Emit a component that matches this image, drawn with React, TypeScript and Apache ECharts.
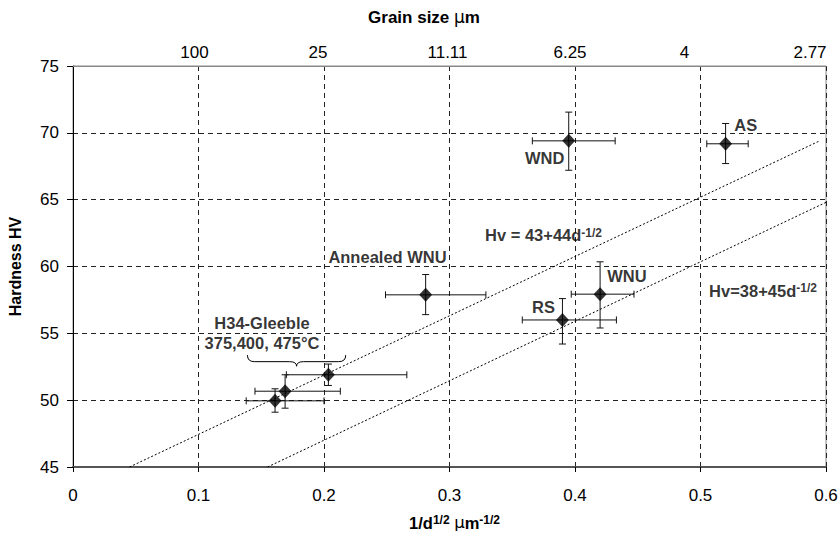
import React, { useEffect, useRef } from "react";
import * as echarts from "echarts";

// Data
const pointNames = ["H34 375°C", "H34 400°C", "H34 475°C", "Annealed WNU", "RS", "WND", "WNU", "AS"];
const invSqrtD = [0.161, 0.169, 0.2035, 0.281, 0.39, 0.395, 0.42, 0.52];
const hardness = [49.95, 50.67, 51.9, 57.88, 56.0, 69.4, 57.93, 69.18];
const xLow = [0.138, 0.145, 0.17, 0.249, 0.358, 0.366, 0.397, 0.505];
const xHigh = [0.2, 0.213, 0.266, 0.329, 0.433, 0.432, 0.447, 0.538];
const yLow = [49.1, 49.4, 51.1, 56.4, 54.2, 67.2, 55.4, 67.7];
const yHigh = [50.85, 51.9, 52.7, 59.4, 57.6, 71.55, 60.35, 70.7];

const fit1 = [[0.045, 45], [0.595, 69.4]]; // Hv = 43+44d^-1/2
const fit2 = [[0.155, 45], [0.6, 64.8]]; // Hv = 38+45d^-1/2

const topTickValues = [0.1, 0.2, 0.3, 0.4, 0.5, 0.6];
const grainSizeLabels = ["100", "25", "11.11", "6.25", "4", "2.77"];
// leftward shift (px) of each top label, as in the reference layout
const topLabelShift = [4, 6, 2, 5, 16, 16];

const annotationTexts = [
  "{b|AS}",
  "{b|WND}",
  "{b|Annealed WNU}",
  "{b|H34-Gleeble}",
  "{b|375,400, 475°C}",
  "{b|WNU}",
  "{b|RS}",
  "{b|Hv = 43+44d}{sup|-1/2}",
  "{b|Hv=38+45d}{sup|-1/2}",
];
const annotationX = [0.536, 0.3758, 0.2506, 0.1506, 0.1506, 0.4414, 0.3749, 0.3749, 0.5498];
const annotationY = [70.58, 68.14, 60.68, 55.79, 54.27, 59.3, 56.94, 62.35, 58.18];

// brace: [xStart, xEnd, yTop, yTip]
const brace = [[0.139, 0.2173, 53.37, 52.54]];

const FONT = "Liberation Sans";

export default function App() {
  const ref = useRef<HTMLDivElement>(null);
  useEffect(() => {
    if (!ref.current) return;
    const chart = echarts.init(ref.current, null, { renderer: "svg" });
    const errData = invSqrtD.map((x, i) => [x, hardness[i], xLow[i], xHigh[i], yLow[i], yHigh[i]]);
    const rich = {
      b: { fontSize: 16.5, fontWeight: "bold", fontFamily: FONT, color: "#000" },
      sup: { fontSize: 12, fontWeight: "bold", fontFamily: FONT, color: "#000", verticalAlign: "top" },
      mu: { fontSize: 16.5, fontWeight: "normal", fontFamily: "DejaVu Sans", color: "#000" },
    };
    const topRich: any = {};
    topLabelShift.forEach((s, i) => {
      topRich["p" + i] = { fontSize: 17, fontFamily: FONT, color: "#000", padding: [0, s * 2, 0, 0] };
    });
    const option: any = {
      animation: false,
      backgroundColor: "#fff",
      textStyle: { fontFamily: FONT },
      grid: {
        left: 73,
        right: 13,
        top: 66,
        bottom: 67,
        containLabel: false,
        outerBoundsMode: "none",
        show: true,
        borderColor: "#888",
        borderWidth: 1,
        backgroundColor: "transparent",
      },
      graphic: [
        {
          type: "text",
          x: 424,
          y: 17,
          style: {
            text: "{b|Grain size }{mu|µ}{b|m}",
            fill: "#000",
            align: "center",
            verticalAlign: "middle",
            rich: {
              b: { fontSize: 17, fontWeight: "bold", fontFamily: FONT, fill: "#000" },
              mu: { fontSize: 17, fontWeight: "normal", fontFamily: "DejaVu Sans", fill: "#000" },
            },
          },
        },
      ],
      xAxis: [
        {
          type: "value",
          min: 0,
          max: 0.6,
          interval: 0.1,
          position: "bottom",
          name: "{b|1/d}{sup|1/2}{b| }{mu|µ}{b|m}{sup|-1/2}",
          nameLocation: "middle",
          nameGap: 47,
          nameTextStyle: { fontSize: 16, fontWeight: "bold", fontFamily: FONT, color: "#000", rich, padding: [0, 0, 0, 10] },
          axisLine: { show: true, lineStyle: { color: "#555", width: 2 } },
          axisTick: { show: true, length: 5, lineStyle: { color: "#000" } },
          axisLabel: { fontSize: 17, color: "#000", fontFamily: FONT, margin: 20 },
          splitLine: { show: true, lineStyle: { color: "#222", type: [5, 4], width: 1 } },
        },
        {
          type: "value",
          min: 0,
          max: 0.6,
          interval: 0.1,
          position: "top",
          axisLine: { show: true, lineStyle: { color: "#888", width: 1 } },
          axisTick: { show: false },
          axisLabel: {
            fontSize: 17,
            color: "#000",
            fontFamily: FONT,
            margin: 5,
            rich: topRich,
            formatter: (v: number) => {
              const i = topTickValues.findIndex((t) => Math.abs(t - v) < 1e-6);
              return i < 0 ? "" : "{p" + i + "|" + grainSizeLabels[i] + "}";
            },
          },
          splitLine: { show: false },
        },
      ],
      yAxis: {
        type: "value",
        min: 45,
        max: 75,
        interval: 5,
        name: "Hardness HV",
        nameLocation: "middle",
        nameGap: 50,
        nameTextStyle: { fontSize: 16, fontWeight: "bold", fontFamily: FONT, color: "#000" },
        axisLine: { show: true, lineStyle: { color: "#000", width: 1 } },
        axisTick: { show: true, length: 6, lineStyle: { color: "#000" } },
        axisLabel: { fontSize: 17, color: "#000", fontFamily: FONT, margin: 14 },
        splitLine: { show: true, lineStyle: { color: "#222", type: [5, 4], width: 1 } },
      },
      series: [
        {
          type: "line",
          data: fit1,
          symbol: "none",
          lineStyle: { color: "#000", width: 1, type: [2, 2] },
          z: 3,
        },
        {
          type: "line",
          data: fit2,
          symbol: "none",
          lineStyle: { color: "#000", width: 1, type: [2, 2] },
          z: 3,
        },
        {
          type: "custom",
          data: errData,
          z: 4,
          renderItem: (params: any, api: any) => {
            const c = api.coord([api.value(0), api.value(1)]);
            const xl = api.coord([api.value(2), api.value(1)]);
            const xh = api.coord([api.value(3), api.value(1)]);
            const yl = api.coord([api.value(0), api.value(4)]);
            const yh = api.coord([api.value(0), api.value(5)]);
            const st = { stroke: "#111", lineWidth: 1 };
            const cap = 3.5;
            return {
              type: "group",
              children: [
                { type: "line", shape: { x1: xl[0], y1: c[1], x2: xh[0], y2: c[1] }, style: st },
                { type: "line", shape: { x1: xl[0], y1: c[1] - cap, x2: xl[0], y2: c[1] + cap }, style: st },
                { type: "line", shape: { x1: xh[0], y1: c[1] - cap, x2: xh[0], y2: c[1] + cap }, style: st },
                { type: "line", shape: { x1: c[0], y1: yl[1], x2: c[0], y2: yh[1] }, style: st },
                { type: "line", shape: { x1: c[0] - cap, y1: yl[1], x2: c[0] + cap, y2: yl[1] }, style: st },
                { type: "line", shape: { x1: c[0] - cap, y1: yh[1], x2: c[0] + cap, y2: yh[1] }, style: st },
              ],
            };
          },
        },
        {
          type: "scatter",
          data: invSqrtD.map((x, i) => ({ name: pointNames[i], value: [x, hardness[i]] })),
          symbol: "diamond",
          symbolSize: [13, 14],
          itemStyle: { color: "#000" },
          z: 5,
        },
        {
          type: "custom",
          data: brace,
          z: 4,
          renderItem: (params: any, api: any) => {
            const a = api.coord([api.value(0), api.value(2)]);
            const b = api.coord([api.value(1), api.value(2)]);
            const tip = api.coord([(api.value(0) + api.value(1)) / 2, api.value(3)]);
            const midY = (a[1] + tip[1]) / 2 + 1;
            const r = 7;
            const st = { stroke: "#000", lineWidth: 1, fill: "none" };
            return {
              type: "group",
              children: [
                { type: "bezierCurve", shape: { x1: a[0], y1: a[1], x2: a[0] + r, y2: midY, cpx1: a[0], cpy1: midY }, style: st },
                { type: "line", shape: { x1: a[0] + r, y1: midY, x2: tip[0] - r, y2: midY }, style: st },
                { type: "bezierCurve", shape: { x1: tip[0] - r, y1: midY, x2: tip[0], y2: tip[1], cpx1: tip[0], cpy1: midY }, style: st },
                { type: "bezierCurve", shape: { x1: tip[0], y1: tip[1], x2: tip[0] + r, y2: midY, cpx1: tip[0], cpy1: midY }, style: st },
                { type: "line", shape: { x1: tip[0] + r, y1: midY, x2: b[0] - r, y2: midY }, style: st },
                { type: "bezierCurve", shape: { x1: b[0] - r, y1: midY, x2: b[0], y2: b[1], cpx1: b[0], cpy1: midY }, style: st },
              ],
            };
          },
        },
        {
          type: "scatter",
          data: annotationTexts.map((t, i) => ({ value: [annotationX[i], annotationY[i]], name: t })),
          symbolSize: 0,
          z: 6,
          silent: true,
          label: {
            show: true,
            position: "inside",
            formatter: (p: any) => p.name,
            fontSize: 16.5,
            fontWeight: "bold",
            fontFamily: FONT,
            color: "#000",
            rich,
          },
        },
      ],
    };
    chart.setOption(option);
    return () => chart.dispose();
  }, []);
  return (
    <div
      ref={ref}
      style={{ position: "fixed", left: 0, top: 0, width: 839, height: 534, background: "#fff" }}
    />
  );
}
